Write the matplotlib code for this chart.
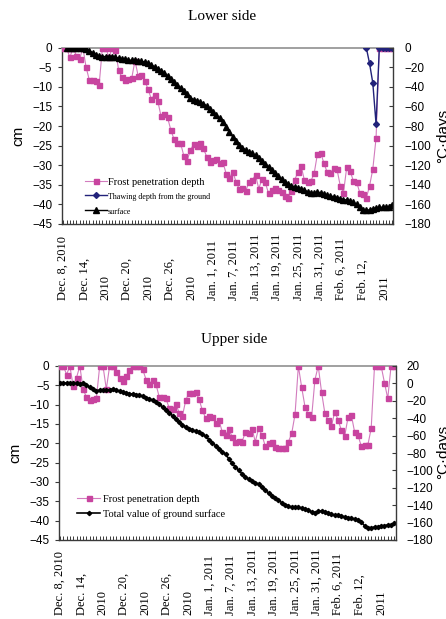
import numpy as np
import matplotlib
matplotlib.use('Agg')
from matplotlib import pyplot as plt

nan = np.nan
W, H = 446, 619

# ---------------- data ----------------
days = np.arange(102)

lower_frost = [0, 0, -2.5, 0, -2, -3, 0, -5, -8.3, -8.3,
               -8.5, -9.5, 0, 0, -2.5, 0, -0.5, -5.8, -7.6, -8.3,
               -8, -7.8, -3.3, -7.3, -7, -8.4, -10.6, -13, -12.2, -13.6,
               -17.5, -16.8, -17.8, -21, -23.4, -24.3, -24.4, -27.6, -28.9, -26.1,
               -24.7, -25.1, -24.2, -25.7, -27.8, -29.1, -28.6, -28.5, -29.5, -29.2,
               -32.2, -33.3, -31.6, -34.2, -36.1, -35.9, -36.6, -34.2, -33.8, -32.5,
               -36, -33.5, -34.4, -37.2, -36.3, -35.9, -36.3, -36.9, -37.8, -38.4,
               -36.7, -33.8, -31.8, -30.2, -33.8, -34.4, -34, -32.1, -27.1, -26.8,
               -29.5, -31.8, -31.9, -30.8, -31, -35.2, -37, -30.5, -31.4, -33.9,
               -34.2, -37, -37.4, -38.4, -35.3, -31, -23.1, 0, 0, 0,
               0, 0]

lower_thaw = [nan] * 93 + [0, -4, -9, -19.5, 0, 0, 0, 0, 0]

lower_total = [nan, 0, 0, 0, 0, 0, 0, -1, -3, -5,
               -7, -8.5, -9, -9, -9, -9, -10, -10.5, -11.5, -12,
               -12.5, -13, -13, -13.5, -14, -14.5, -16, -17.5, -19.5, -21.5,
               -24, -26, -28.5, -31.5, -35, -38, -41, -44, -47.5, -51,
               -53, -54, -55.5, -57, -59.5, -63, -66, -69, -72, -76,
               -81, -86, -91, -95, -99, -102, -104.5, -106.5, -108, -110,
               -112.5, -115.5, -118.5, -121.5, -125, -128, -131, -134, -137, -139.5,
               -141, -142, -143, -144, -145.5, -147, -148, -148, -147.5, -148,
               -149.5, -150.5, -151.5, -152, -153, -154, -155, -155.5, -156.5, -158,
               -160, -163, -165.5, -166, -165.5, -164.5, -163.5, -163, -163, -162.5,
               -162.5, -161]

upper_frost = [0, 0, -2.2, 0, -5.3, -3, 0, -6, -8.1, -8.8,
               -8.6, -8.4, 0, 0, -6, 0, 0, -1.5, -3.2, -3.8,
               -2.6, -1, 0, 0, 0, -0.9, -3.5, -4.7, -3.6, -4.7,
               -8.1, -8.1, -8.4, -10.9, -11.2, -9.8, -12.1, -12.9, -8.8, -6.9,
               -7.1, -6.6, -8.6, -11.4, -13.5, -12.9, -13.1, -14.7, -14, -17,
               -17.8, -16.4, -18.3, -19.6, -19.3, -19.6, -17.1, -17.4, -16.2, -19.6,
               -16.1, -17.8, -20.7, -19.8, -19.6, -21, -21.1, -21.3, -21.1, -19.6,
               -17.4, -12.5, 0, -5.5, -10.5, -12.5, -13.3, -3.6, 0, -6.7,
               -12.2, -14, -15.5, -11.8, -14, -16.6, -18.1, -13.3, -12.7, -17.1,
               -17.9, -20.7, -20.4, -20.4, -16.1, 0, 0, 0, -4.3, -8.4,
               0, 0]

upper_total = [0.8, 0.5, 0.3, 0, 0, 0, -0.2, 0, -2, -4.3,
               -6.5, -8.5, -7.8, -7.5, -7.6, -7.2, -6.8, -7.8, -9, -10.4,
               -11.3, -11.8, -12.2, -12.8, -13.5, -15, -16.8, -18, -19.5, -21.5,
               -24.2, -27, -30.3, -33.8, -37.2, -41, -44.6, -48, -50, -52,
               -53.8, -55.2, -56.3, -58.5, -61, -64.5, -68.5, -71.5, -75, -78.8,
               -81.5, -86.5, -92, -96, -100, -104, -107.5, -110, -112, -114,
               -116, -119.5, -123, -126, -129, -132, -134.5, -137, -139.3, -141,
               -142.3, -142.5, -142.5, -143.2, -144.3, -145.8, -147.5, -148.4, -147, -146.6,
               -147.8, -149.3, -150.5, -151.3, -151.8, -152.5, -153.5, -154.3, -155, -156,
               -157.3, -159.5, -163.5, -165.8, -166.2, -165, -164.7, -164, -163.5, -162.7,
               -162.5, -161]

date_cols = ["Dec. 8, 2010", "Dec. 14,", "2010", "Dec. 20,", "2010", "Dec. 26,", "2010",
             "Jan. 1, 2011", "Jan. 7, 2011", "Jan. 13, 2011", "Jan. 19, 2011",
             "Jan. 25, 2011", "Jan. 31, 2011", "Feb. 6, 2011", "Feb. 12,", "2011"]

cm_ticks = np.arange(0, -46, -5)
lower_cd_ticks = np.arange(0, -181, -20)
upper_cd_ticks = np.arange(20, -181, -20)

# ---------------- style ----------------
PINK = '#C8449F'
PINK_LINE = '#D27CBE'
NAVY = '#22227A'
SANS = 'Liberation Sans'
SERIF = 'Liberation Serif'
SPINE = '#3a3a3a'


def px(x, y):
    return x / W, 1 - y / H


def setup(ax, ax2, cd_ticks, cd_lim):
    ax.set_xlim(-0.4, 101.2)
    ax.set_ylim(-45, 0)
    ax.set_yticks(cm_ticks)
    ax.set_xticks(days)
    ax.tick_params(axis='x', direction='in', length=3, width=0.7, labelbottom=False, color=SPINE)
    ax.tick_params(axis='y', direction='out', length=3, width=0.8, pad=4, labelsize=8.5, color=SPINE)
    for lab in ax.get_yticklabels():
        lab.set_family(SANS)
    ax.spines['top'].set_color('#999999')
    ax.spines['top'].set_linewidth(1.3)
    for s in ['left', 'bottom']:
        ax.spines[s].set_color(SPINE)
        ax.spines[s].set_linewidth(1.0)
    ax.spines['right'].set_visible(False)

    ax2.set_ylim(*cd_lim)
    ax2.set_yticks(cd_ticks)
    ax2.tick_params(axis='y', direction='in', length=3, width=0.8, pad=8, labelsize=8.5, color=SPINE)
    for lab in ax2.get_yticklabels():
        lab.set_family(SANS)
    for s in ['left', 'bottom', 'top']:
        ax2.spines[s].set_visible(False)
    ax2.spines['right'].set_color(SPINE)
    ax2.spines['right'].set_linewidth(1.0)


fig = plt.figure(figsize=(W / 100, H / 100), dpi=100)

# ---------------- Lower side ----------------
l, b = px(62, 224)
ax = fig.add_axes([l, b, 331 / W, 176.3 / H])
ax2 = ax.twinx()
setup(ax, ax2, lower_cd_ticks, (-180, 0))

h1, = ax.plot(days, lower_frost, color=PINK_LINE, lw=0.8, marker='s', ms=3.6,
              mfc=PINK, mec=PINK, zorder=3)
h2, = ax.plot(days, lower_thaw, color=NAVY, lw=1.0, marker='D', ms=3, mfc=NAVY, mec=NAVY, zorder=4)
h3, = ax2.plot(days, lower_total, color='black', lw=1.0, marker='^', ms=4, mfc='black', mec='black')

leg = ax2.legend([h1, h2, h3], ["Frost penetration depth", "Thawing depth from the ground", "surface"],
                 loc='upper left', bbox_to_anchor=(0.07, 0.265), frameon=False,
                 prop={'family': SERIF, 'size': 7.5}, handlelength=2.1, handletextpad=0.1,
                 labelspacing=0.5, borderaxespad=0, borderpad=0)
leg.get_texts()[1].set_fontsize(5.8)
leg.get_texts()[2].set_fontsize(5.8)

fig.text(*px(222, 17), "Lower side", ha='center', va='center', family=SERIF, size=11)
fig.text(*px(18, 136), "cm", rotation=90, ha='center', va='center', family=SANS, size=11)
fig.text(*px(436, 136), "°C·days", rotation=90, ha='left', va='center', family=SANS, size=11)
for k, t in enumerate(date_cols):
    fig.text(*px(63 + 21.4 * k, 300), t, rotation=90, ha='center', va='bottom',
             family=SERIF, size=9)

# ---------------- Upper side ----------------
l, b = px(59.3, 540)
bx = fig.add_axes([l, b, 336.4 / W, 174 / H])
bx2 = bx.twinx()
setup(bx, bx2, upper_cd_ticks, (-180, 20))
bx.set_xlim(-0.2, 101.4)

g1, = bx.plot(days, upper_frost, color=PINK_LINE, lw=0.8, marker='s', ms=3.6,
              mfc=PINK, mec=PINK, zorder=3)
g2, = bx2.plot(days, upper_total, color='black', lw=1.2, marker='D', ms=2.2, mfc='black', mec='black')

bx2.legend([g1, g2], ["Frost penetration depth", "Total value of ground surface"],
           loc='upper left', bbox_to_anchor=(0.053, 0.262), frameon=False,
           prop={'family': SERIF, 'size': 7.5}, handlelength=2.2, handletextpad=0.25,
           labelspacing=0.5, borderaxespad=0, borderpad=0)

fig.text(*px(234, 340), "Upper side", ha='center', va='center', family=SERIF, size=11)
fig.text(*px(15, 453), "cm", rotation=90, ha='center', va='center', family=SANS, size=11)
fig.text(*px(436, 452), "°C·days", rotation=90, ha='left', va='center', family=SANS, size=11)
for k, t in enumerate(date_cols):
    fig.text(*px(60 + 21.4 * k, 615), t, rotation=90, ha='center', va='bottom',
             family=SERIF, size=9)

fig.savefig('out.png', dpi=100)
